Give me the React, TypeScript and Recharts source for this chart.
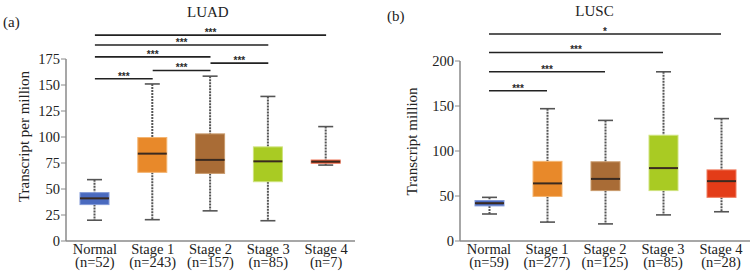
import React from 'react';
import { ComposedChart, Bar, XAxis, YAxis, ReferenceLine } from 'recharts';

// ---------- LUAD data ----------
const luadCategories = ['Normal', 'Stage 1', 'Stage 2', 'Stage 3', 'Stage 4'];
const luadCounts = ['(n=52)', '(n=243)', '(n=157)', '(n=85)', '(n=7)'];
const luadMin = [20, 20.5, 29, 19.5, 73];
const luadQ1 = [35, 66, 65, 57, 74.7];
const luadMedian = [41, 84, 78, 76.6, 76.3];
const luadQ3 = [46.5, 99.5, 103, 90.5, 77.9];
const luadMax = [59, 151, 158.5, 139, 110];
const luadTicks = [0, 25, 50, 75, 100, 125, 150, 175];
const luadSigFrom = ['Normal', 'Stage 1', 'Normal', 'Stage 2', 'Normal', 'Normal'];
const luadSigTo = ['Stage 1', 'Stage 2', 'Stage 2', 'Stage 3', 'Stage 3', 'Stage 4'];
const luadSigY = [156, 164, 177, 171, 188.5, 198];
const luadSigLabel = ['***', '***', '***', '***', '***', '***'];

// ---------- LUSC data ----------
const luscCategories = ['Normal', 'Stage 1', 'Stage 2', 'Stage 3', 'Stage 4'];
const luscCounts = ['(n=59)', '(n=277)', '(n=125)', '(n=85)', '(n=28)'];
const luscMin = [30, 21, 19, 29, 32.5];
const luscQ1 = [39, 49.5, 56, 56, 48.5];
const luscMedian = [42, 64, 69, 81, 66.5];
const luscQ3 = [45, 88.5, 88, 117.5, 79];
const luscMax = [48.5, 147, 134, 188, 136];
const luscTicks = [0, 50, 100, 150, 200];
const luscSigFrom = ['Normal', 'Normal', 'Normal', 'Normal'];
const luscSigTo = ['Stage 1', 'Stage 2', 'Stage 3', 'Stage 4'];
const luscSigY = [167, 188, 209.5, 230];
const luscSigLabel = ['***', '***', '***', '*'];

// ---------- styles ----------
const FONT = 'Liberation Serif, Times New Roman, serif';
const boxFill = ['#4a6abf', '#e8892a', '#a96c36', '#a9cb23', '#e33c18'];
const boxEdge = ['#8299d8', '#f4b572', '#c99b6c', '#cfe37e', '#f07e62'];

const buildRows = (cats: string[], mn: number[], q1: number[], md: number[], q3: number[], mx: number[]) =>
  cats.map((name, i) => ({
    name,
    range: [mn[i], mx[i]],
    min: mn[i],
    q1: q1[i],
    median: md[i],
    q3: q3[i],
    max: mx[i],
  }));

const luadRows = buildRows(luadCategories, luadMin, luadQ1, luadMedian, luadQ3, luadMax);
const luscRows = buildRows(luscCategories, luscMin, luscQ1, luscMedian, luscQ3, luscMax);

const BoxShape = (props: any) => {
  const { x, y, width, height, payload, index } = props;
  if (!payload) return null;
  const top = Math.min(y, y + height);
  const bottom = Math.max(y, y + height);
  const span = payload.max - payload.min;
  const py = (v: number) => bottom - ((bottom - top) * (v - payload.min)) / span;
  const cx = x + width / 2;
  const capW = 15;
  const yMax = py(payload.max);
  const yQ3 = py(payload.q3);
  const yMed = py(payload.median);
  const yQ1 = py(payload.q1);
  const yMin = py(payload.min);
  return (
    <g>
      <line x1={cx} x2={cx} y1={yMax} y2={yQ3} stroke="#555" strokeWidth={2} strokeDasharray="2 1" />
      <line x1={cx} x2={cx} y1={yQ1} y2={yMin} stroke="#555" strokeWidth={2} strokeDasharray="2 1" />
      <line x1={cx - capW / 2} x2={cx + capW / 2} y1={yMax} y2={yMax} stroke="#555" strokeWidth={1.6} />
      <line x1={cx - capW / 2} x2={cx + capW / 2} y1={yMin} y2={yMin} stroke="#555" strokeWidth={1.6} />
      <rect
        x={x}
        y={yQ3}
        width={width}
        height={Math.max(yQ1 - yQ3, 1)}
        fill={boxFill[index]}
        stroke={boxEdge[index]}
        strokeWidth={1}
      />
      <line x1={x} x2={x + width} y1={yMed} y2={yMed} stroke="#3a2a20" strokeWidth={2} />
    </g>
  );
};

const makeTick = (counts: string[]) => (props: any) => {
  const { x, y, payload, index } = props;
  return (
    <text x={x} y={y} textAnchor="middle" fontFamily={FONT} fontSize={14.5} fill="#222">
      <tspan x={x} dy={12.5}>{payload.value}</tspan>
      <tspan x={x} dy={13.5}>{counts[index]}</tspan>
    </text>
  );
};

const makeStarLabel = (text: string) => (props: any) => {
  const vb = props.viewBox || {};
  const cx = (vb.x || 0) + (vb.width || 0) / 2;
  const yy = vb.y || 0;
  return (
    <text
      x={cx}
      y={yy + 1}
      textAnchor="middle"
      fontFamily="Liberation Sans, Arial, sans-serif"
      fontWeight="bold"
      fontSize={10}
      fill="#2a2a2a"
    >
      {text}
    </text>
  );
};

type PanelProps = {
  rows: any[];
  counts: string[];
  ticks: number[];
  domainMax: number;
  sigFrom: string[];
  sigTo: string[];
  sigY: number[];
  sigLabel: string[];
  width: number;
  yAxisWidth: number;
  marginTop: number;
  marginRight: number;
};

const Panel = (p: PanelProps) => (
  <ComposedChart
    width={p.width}
    height={278}
    data={p.rows}
    margin={{ top: p.marginTop, right: p.marginRight, bottom: 0, left: 0 }}
  >
    <XAxis
      dataKey="name"
      type="category"
      interval={0}
      height={37}
      axisLine={{ stroke: '#8a8a8a', strokeWidth: 1.5 }}
      tickLine={false}
      tickSize={0}
      tickMargin={0}
      tick={makeTick(p.counts)}
    />
    <YAxis
      type="number"
      domain={[0, p.domainMax]}
      ticks={p.ticks}
      width={p.yAxisWidth}
      axisLine={{ stroke: '#8a8a8a', strokeWidth: 1.5 }}
      tickLine={{ stroke: '#8a8a8a' }}
      tickSize={5}
      tickMargin={1}
      tick={{ fontFamily: FONT, fontSize: 14.5, fill: '#222' }}
    />
    <Bar dataKey="range" barSize={29} shape={<BoxShape />} isAnimationActive={false} />
    {p.sigY.map((yv, i) => (
      <ReferenceLine
        key={i}
        segment={[
          { x: p.sigFrom[i], y: yv },
          { x: p.sigTo[i], y: yv },
        ]}
        ifOverflow="visible"
        stroke="#222"
        strokeWidth={1.6}
        label={makeStarLabel(p.sigLabel[i])}
      />
    ))}
  </ComposedChart>
);

const textStyle: React.CSSProperties = {
  position: 'absolute',
  fontFamily: FONT,
  fontSize: 15,
  lineHeight: '15px',
  color: '#222',
  whiteSpace: 'nowrap',
};

const YLabel = ({ text, cx, cy }: { text: string; cx: number; cy: number }) => (
  <div
    style={{
      ...textStyle,
      left: cx - 100,
      top: cy - 7.5,
      width: 200,
      textAlign: 'center',
      transform: 'rotate(-90deg)',
    }}
  >
    {text}
  </div>
);

export default function App() {
  return (
    <div style={{ position: 'absolute', left: 0, top: 0, width: 751, height: 278, background: '#fff', overflow: 'hidden' }}>
      <div style={{ position: 'absolute', left: 0, top: 0 }}>
        <Panel
          rows={luadRows}
          counts={luadCounts}
          ticks={luadTicks}
          domainMax={175}
          sigFrom={luadSigFrom}
          sigTo={luadSigTo}
          sigY={luadSigY}
          sigLabel={luadSigLabel}
          width={375}
          yAxisWidth={66}
          marginTop={59}
          marginRight={20}
        />
      </div>
      <div style={{ position: 'absolute', left: 380, top: 0 }}>
        <Panel
          rows={luscRows}
          counts={luscCounts}
          ticks={luscTicks}
          domainMax={200}
          sigFrom={luscSigFrom}
          sigTo={luscSigTo}
          sigY={luscSigY}
          sigLabel={luscSigLabel}
          width={371}
          yAxisWidth={80}
          marginTop={61}
          marginRight={1}
        />
      </div>
      <div style={{ ...textStyle, left: 3, top: 15 }}>(a)</div>
      <div style={{ ...textStyle, left: 187, top: 4.5, width: 41, textAlign: 'center' }}>LUAD</div>
      <div style={{ ...textStyle, left: 387, top: 8.5 }}>(b)</div>
      <div style={{ ...textStyle, left: 574, top: 4, width: 41, textAlign: 'center' }}>LUSC</div>
      <YLabel text="Transcript per million" cx={24} cy={136} />
      <YLabel text="Transcript million" cx={412} cy={141} />
    </div>
  );
}
